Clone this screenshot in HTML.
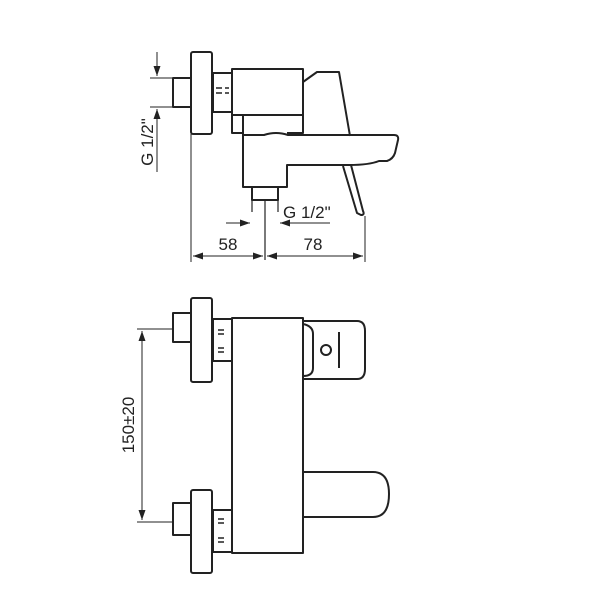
<!DOCTYPE html>
<html><head><meta charset="utf-8"><style>html,body{margin:0;padding:0;background:#fff}svg{display:block}</style></head>
<body>
<svg width="600" height="600" viewBox="0 0 600 600" xmlns="http://www.w3.org/2000/svg">
<defs><marker id="a" viewBox="0 0 10 10" refX="10" refY="5" markerWidth="10" markerHeight="10" orient="auto-start-reverse" markerUnits="userSpaceOnUse"><path d="M0,1.5 L10,5 L0,8.5 z" fill="#222"/></marker></defs>
<g fill="none" stroke="#222" stroke-width="2" stroke-linejoin="round">
<!-- TOP VIEW -->
<rect x="191" y="52" width="21" height="82" rx="2"/>
<rect x="173" y="78" width="18" height="29"/>
<rect x="213" y="73" width="19" height="39"/>
<path d="M216,88 h6 M216,93 h6 M225,88 h4 M225,93 h4" stroke-width="1.5"/>
<rect x="232" y="69" width="71" height="46"/>
<path d="M232,115 v18 h11 M303,115 v18 h-16"/>
<path d="M243,115 v72 h44 v-22 h62 q20,0 30,-4 h8 q6,-2 8,-8 l3,-13 q1,-5 -4,-5 h-106 q-12,-4 -24,0 h-21"/>
<path d="M303,82 l14,-10 l22,0 l11,64"/>
<path d="M351,165 l12,46 q2,4 -2,4 l-4,-2 l-14,-47"/>
<rect x="252" y="187" width="26" height="13"/>
<path d="M252,200 v12 M278,200 v12 M265,200 v60" stroke-width="1.2"/>
<!-- BOTTOM VIEW -->
<rect x="191" y="298" width="21" height="84" rx="2"/>
<rect x="173" y="313" width="18" height="29"/>
<rect x="213" y="319" width="19" height="42"/>
<path d="M218,330 h6 M218,334 h6 M218,348 h6 M218,352 h6" stroke-width="1.5"/>
<rect x="191" y="490" width="21" height="83" rx="2"/>
<rect x="173" y="503" width="18" height="32"/>
<rect x="213" y="510" width="19" height="42"/>
<path d="M218,519 h6 M218,523 h6 M218,538 h6 M218,542 h6" stroke-width="1.5"/>
<rect x="232" y="318" width="71" height="235"/>
<path d="M303,321 h54 q8,0 8,10 v38 q0,10 -8,10 h-54"/>
<path d="M303,324 q10,2 10,10 v34 q0,8 -10,8"/>
<circle cx="326" cy="350" r="5"/>
<path d="M339,332 v36"/>
<path d="M303,472 h70 q16,0 16,22 q0,23 -16,23 h-70"/>
</g>
<!-- dimensions -->
<g stroke="#222" stroke-width="1" fill="none">
<path d="M150,78 h41 M150,107 h41"/>
<path d="M157,52 V76" marker-end="url(#a)"/>
<path d="M157,172 V109" marker-end="url(#a)"/>
<path d="M191,134 V262 M365,216 V262"/>
<path d="M193,256 H263" marker-start="url(#a)" marker-end="url(#a)"/>
<path d="M267,256 H363" marker-start="url(#a)" marker-end="url(#a)"/>
<path d="M226,223 H250" marker-end="url(#a)"/>
<path d="M330,223 H280" marker-end="url(#a)"/>
<path d="M137,329 h36 M137,522 h36"/>
<path d="M142,331 V520" marker-start="url(#a)" marker-end="url(#a)"/>
</g>
<g font-family="Liberation Sans, sans-serif" font-size="17" fill="#222">
<text x="0" y="0" transform="translate(153,142) rotate(-90)" text-anchor="middle">G 1/2"</text>
<text x="283" y="218">G 1/2"</text>
<text x="228" y="250" text-anchor="middle">58</text>
<text x="313" y="250" text-anchor="middle">78</text>
<text x="0" y="0" transform="translate(134,425) rotate(-90)" text-anchor="middle">150±20</text>
</g>
</svg>
</body></html>
